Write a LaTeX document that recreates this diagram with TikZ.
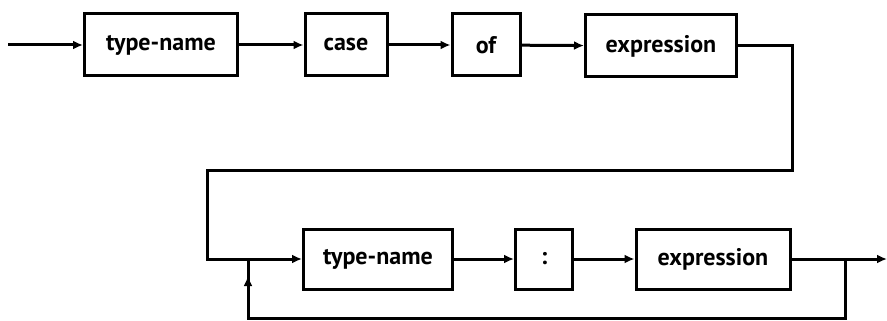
\documentclass[tikz,border=0pt]{standalone}
\usepackage{fontspec}
\setmainfont{PT Sans}
\usetikzlibrary{arrows.meta}

\begin{document}
\begin{tikzpicture}
      [x=1pt,y=-1pt
      ,box/.style={draw,line width=3pt,inner sep=0pt,minimum height=62pt
                  ,font=\bfseries\fontsize{24}{28}\selectfont}
      ,lin/.style={line width=3pt}
      ,arr/.style={lin,-{Latex[length=10pt,width=9pt]}}
      ]
        \useasboundingbox (0,0) rectangle (887,321);
        % top row
        \node[box,minimum width=153pt] (tname1) at (161,45) {type-name};
        \node[box,minimum width=82pt]  (kcase)  at (346,45) {case};
        \node[box,minimum width=68pt]  (kof)    at (486,45) {of};
        \node[box,minimum width=151pt] (expr1)  at (661,46) {expression};
        % bottom row
        \node[box,minimum width=149pt,minimum height=60pt] (tname2) at (378,259) {type-name};
        \node[box,minimum width=57pt,minimum height=60pt]  (kcolon) at (544,259) {:};
        \node[box,minimum width=154pt,minimum height=60pt] (expr2)  at (713,259) {expression};
        \coordinate (start) at (8,45);
        \coordinate (rturn) at (792,170);
        \coordinate (lturn) at (207,170);
        \coordinate (fork)  at (248,259);
        \coordinate (split) at (845,259);
        \coordinate (back)  at (248,318);
        \coordinate (tip)   at (248,276);
        \coordinate (exit)  at (887,259);
        \draw[arr] (start) -- (tname1);
        \draw[arr] (tname1) -- (kcase);
        \draw[arr] (kcase) -- (kof);
        \draw[arr] (kof) -- (expr1);
        \draw[arr] (expr1.east) -| (rturn) -- (lturn) |- (tname2.west);
        \draw[arr] (tname2) -- (kcolon);
        \draw[arr] (kcolon) -- (expr2);
        \draw[arr] (expr2) -- (exit);
        \draw[lin] (split) |- (back) -- (fork);
        \draw[arr] (back) -- (tip);
      \end{tikzpicture}
\end{document}
